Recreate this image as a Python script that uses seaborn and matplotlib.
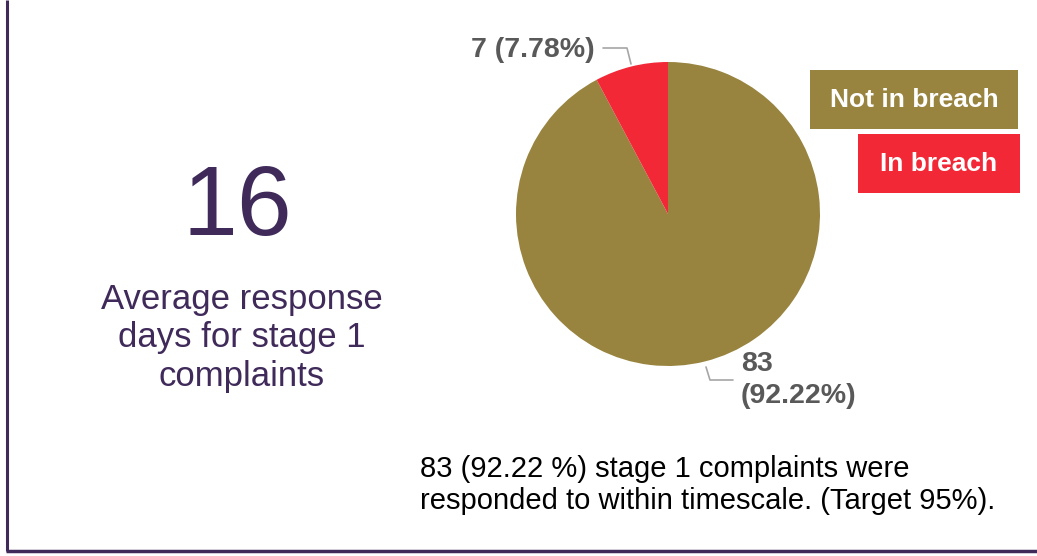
import matplotlib
matplotlib.use("Agg")
import matplotlib.pyplot as plt
import seaborn as sns
from matplotlib.patches import Rectangle

sns.set_theme(style="white")
plt.rcParams['font.family'] = ['Liberation Sans', 'DejaVu Sans']

categories = ["Not in breach", "In breach"]
counts = [83, 7]
percents = [92.22, 7.78]
colors = ["#98843F", "#F22837"]
kpi_value = "16"
kpi_text = "Average response\ndays for stage 1\ncomplaints"
footnote = "83 (92.22 %) stage 1 complaints were\nresponded to within timescale. (Target 95%)."

W, H = 1037, 556
fig = plt.figure(figsize=(W / 100, H / 100), dpi=100)
fig.patch.set_facecolor("white")

# Background axes in pixel coordinates (y downward)
bg = fig.add_axes([0, 0, 1, 1])
bg.set_xlim(0, W)
bg.set_ylim(H, 0)
bg.axis("off")

purple = "#3F2A5A"
bg.plot([7, 7], [0, 551], color=purple, lw=2.2, solid_capstyle="butt")
bg.plot([6, W], [551, 551], color=purple, lw=2.5, solid_capstyle="butt")

bg.text(237, 199, kpi_value, ha="center", va="center_baseline", fontsize=71, color=purple)
bg.text(242, 338, kpi_text, ha="center", va="center", fontsize=25, color=purple,
        linespacing=1.22)
bg.text(420, 485, footnote, ha="left", va="center", fontsize=21, color="black",
        linespacing=1.2)

# Pie
cx, cy, r = 668, 214, 152
pie_ax = fig.add_axes([(cx - r) / W, 1 - (cy + r) / H, 2 * r / W, 2 * r / H])
pie_ax.pie(counts, colors=colors, startangle=90, counterclock=False, radius=1,
           wedgeprops=dict(linewidth=0))
pie_ax.set_xlim(-1, 1)
pie_ax.set_ylim(-1, 1)
pie_ax.set_aspect("auto")
pie_ax.axis("off")

# Data labels
label_gray = "#595959"
line_gray = "#A6A6A6"
bg.text(595, 50, f"{counts[1]} ({percents[1]:.2f}%)", ha="right", va="center",
        fontsize=20.5, fontweight="bold", color=label_gray)
bg.plot([603, 627, 631], [48, 48, 64], color=line_gray, lw=1.2)
bg.text(741, 380, f"{counts[0]}\n({percents[0]:.2f}%)", ha="left", va="center",
        fontsize=20.5, fontweight="bold", color=label_gray, linespacing=1.3)
bg.plot([706, 710, 733], [367, 380, 380], color=line_gray, lw=1.2)

# Legend boxes
bg.add_patch(Rectangle((810, 70), 208, 59, color=colors[0], lw=0))
bg.text(914, 100, categories[0], ha="center", va="center", fontsize=19,
        fontweight="bold", color="white")
bg.add_patch(Rectangle((858, 134), 162, 59, color=colors[1], lw=0))
bg.text(939, 164, categories[1], ha="center", va="center", fontsize=19,
        fontweight="bold", color="white")

fig.savefig("out.png", dpi=100, facecolor="white")
